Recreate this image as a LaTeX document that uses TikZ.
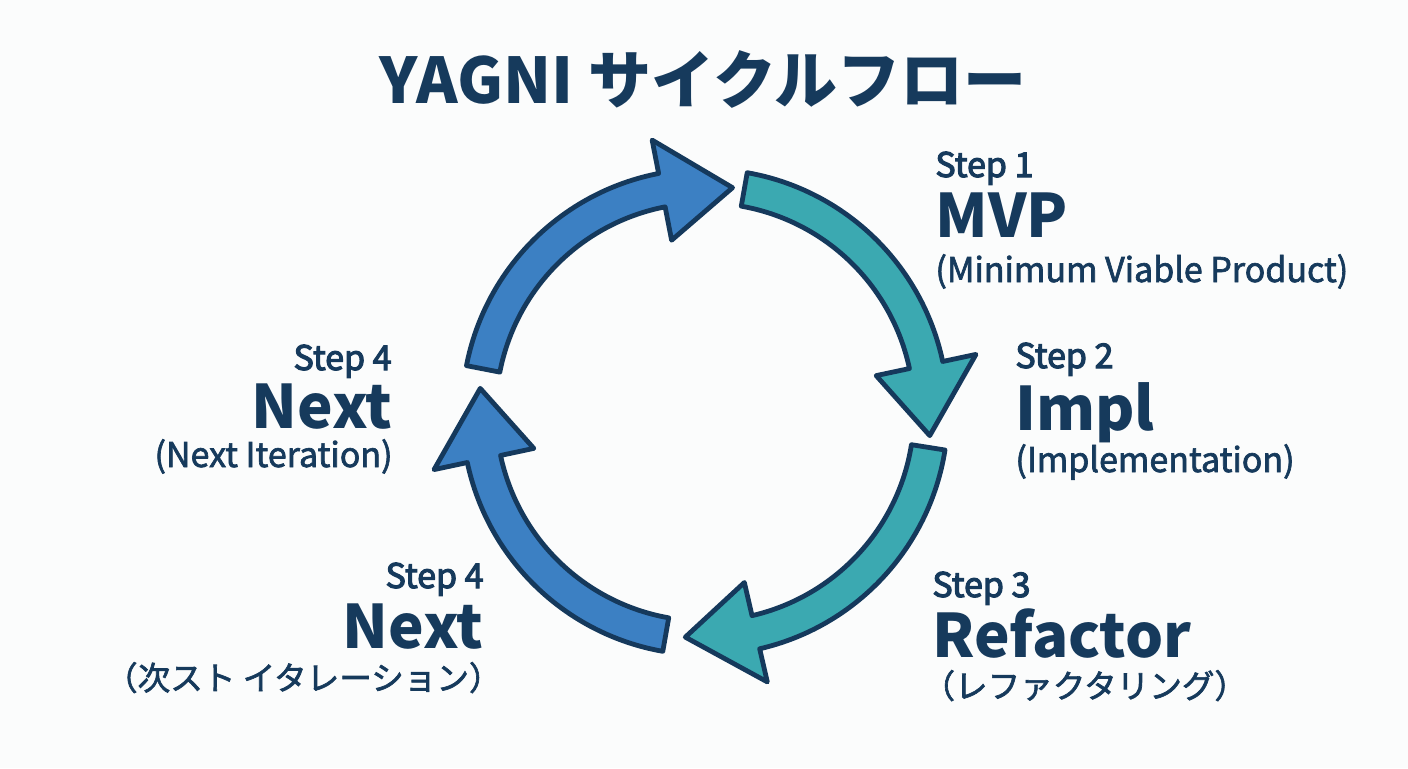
\documentclass[tikz,border=0pt]{standalone}
\usepackage{fontspec}
\setmainfont{Noto Sans CJK JP}
\newfontfamily\semifont{Noto Sans CJK JP}[FakeBold=3.2]
\newfontfamily\medfont{Noto Sans CJK JP}[FakeBold=2]
\usepackage{tikz}
\definecolor{cycblue}{HTML}{3C80C3}
\definecolor{cycteal}{HTML}{3BA9B1}
\definecolor{cycline}{HTML}{15395C}
\definecolor{cyctext}{HTML}{163A5C}
\definecolor{cycbg}{HTML}{FBFCFC}
\tikzset{
  cycarrow/.style={draw=cycline,line width=2.4pt,line join=round},
  titletext/.style={text=cyctext,font=\fontsize{31.5}{34}\selectfont\bfseries,inner sep=0pt},
  stepno/.style={text=cyctext,font=\semifont\fontsize{17}{19}\selectfont,inner sep=0pt},
  stepname/.style={text=cyctext,font=\fontsize{30}{33}\selectfont\bfseries,inner sep=0pt},
  stepsub/.style={text=cyctext,font=\medfont\fontsize{17}{19}\selectfont,inner sep=0pt},
  stepsubjp/.style={text=cyctext,font=\medfont\fontsize{16.3}{18}\selectfont,inner sep=0pt}
}

\begin{document}
\begin{tikzpicture}[x=0.5pt,y=0.5pt]
  \fill[cycbg] (0,0) rectangle (1408,768);
  \useasboundingbox (0,0) rectangle (1408,768);
  % title
  \node[titletext,anchor=base] (title) at (703,665) {YAGNI サイクルフロー};
  % cycle arrows
  \begin{scope}[shift={(705,356)}]
    \foreach \ta/\col in {169/cycblue,80/cycteal,-9/cycteal,-100/cycblue}{
      \pgfmathsetmacro\tb{\ta-86}
      \pgfmathsetmacro\th{\tb+18}
      \draw[cycarrow,fill=\col] (\ta:243) arc[start angle=\ta,end angle=\th,radius=243]
        -- (\th:277) -- (\tb:226) -- (\th:175) -- (\th:209)
        arc[start angle=\th,end angle=\ta,radius=209] -- cycle;
    }
  \end{scope}
  % step 1
  \node[stepno,anchor=base west] (s1no) at (935,591) {Step 1};
  \node[stepname,anchor=base west] (s1name) at (935,531) {MVP};
  \node[stepsub,anchor=base west] (s1sub) at (935,486) {(Minimum Viable Product)};
  % step 2
  \node[stepno,anchor=base west] (s2no) at (1015,400) {Step 2};
  \node[stepname,anchor=base west] (s2name) at (1015,338) {Impl};
  \node[stepsub,anchor=base west] (s2sub) at (1015,296) {(Implementation)};
  % step 3
  \node[stepno,anchor=base west] (s3no) at (932,171) {Step 3};
  \node[stepname,anchor=base west] (s3name) at (932,111) {Refactor};
  \node[stepsubjp,anchor=base west] (s3sub) at (922,70) {（レファクタリング）};
  % step 4 (upper)
  \node[stepno,anchor=base east] (s4no) at (392,398) {Step 4};
  \node[stepname,anchor=base east] (s4name) at (393,340) {Next};
  \node[stepsub,anchor=base east] (s4sub) at (393,301) {(Next Iteration)};
  % step 4 (lower)
  \node[stepno,anchor=base east] (s5no) at (484,180) {Step 4};
  \node[stepname,anchor=base east] (s5name) at (484,120) {Next};
  \node[stepsubjp,anchor=base east] (s5sub) at (502,78) {（次スト イタレーション）};
\end{tikzpicture}
\end{document}
